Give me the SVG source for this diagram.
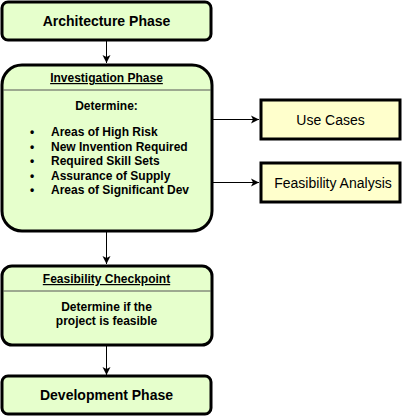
<svg xmlns="http://www.w3.org/2000/svg" width="403" height="416" viewBox="0 0 403 416">
<defs>
<style>
.g{fill:#E6FFCC;stroke:#000;stroke-width:3}
.y{fill:#FFFFCC;stroke:#000;stroke-width:3}
.sep{stroke:#555;stroke-width:1}
text{font-family:"Liberation Sans",Arial,sans-serif;fill:#000}
.b{font-weight:bold}
.c{text-anchor:middle}
.e{stroke:#000;stroke-width:1;fill:none;marker-end:url(#ar)}
</style>
<marker id="ar" markerWidth="10" markerHeight="10" refX="9" refY="5" orient="auto" markerUnits="userSpaceOnUse">
<path d="M1,1 L9,5 L1,9 L3,5 Z" fill="#000"/>
</marker>
</defs>
<g id="edges">
<path class="e" d="M106.5,41 L106.5,63"/>
<path class="e" d="M212,119.5 L259,119.5"/>
<path class="e" d="M212,182.5 L259,182.5"/>
<path class="e" d="M106.5,232 L106.5,264"/>
<path class="e" d="M106.5,346 L106.5,375"/>
</g>
<g id="arch">
<rect class="g" x="2" y="2" width="209" height="38" rx="6"/>
<text class="b c" x="106.5" y="26" font-size="14">Architecture Phase</text>
</g>
<g id="investigation">
<rect class="g" x="2" y="65" width="210" height="166" rx="20"/>
<line class="sep" x1="3" y1="90" x2="211" y2="90"/>
<text class="b c" x="106.5" y="82" font-size="12" text-decoration="underline">Investigation Phase</text>
<text class="b c" x="106.5" y="110" font-size="12">Determine:</text>
<g font-size="12" class="b">
<text x="30" y="136">•</text><text x="51" y="136">Areas of High Risk</text>
<text x="30" y="150.5">•</text><text x="51" y="150.5">New Invention Required</text>
<text x="30" y="165">•</text><text x="51" y="165">Required Skill Sets</text>
<text x="30" y="179.5">•</text><text x="51" y="179.5">Assurance of Supply</text>
<text x="30" y="194">•</text><text x="51" y="194">Areas of Significant Dev</text>
</g>
</g>
<g id="usecases">
<rect class="y" x="261" y="100" width="139" height="39"/>
<text class="c" x="330.5" y="125" font-size="14">Use Cases</text>
</g>
<g id="feasanalysis">
<rect class="y" x="261" y="163" width="139" height="39"/>
<text class="c" x="333" y="188" font-size="14">Feasibility Analysis</text>
</g>
<g id="checkpoint">
<rect class="g" x="2" y="266" width="210" height="79" rx="10"/>
<line class="sep" x1="3" y1="291" x2="211" y2="291"/>
<text class="b c" x="106.5" y="283" font-size="12" text-decoration="underline">Feasibility Checkpoint</text>
<text class="b c" x="106.5" y="311" font-size="12">Determine if the</text>
<text class="b c" x="106.5" y="325" font-size="12">project is feasible</text>
</g>
<g id="dev">
<rect class="g" x="2" y="376" width="209" height="38" rx="6"/>
<text class="b c" x="106.5" y="400" font-size="14">Development Phase</text>
</g>
</svg>
